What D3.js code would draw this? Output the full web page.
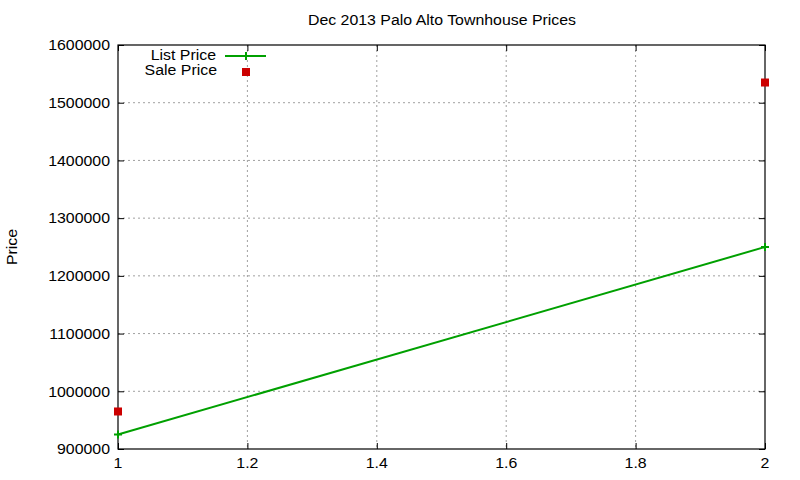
<!DOCTYPE html>
<html>
<head>
<meta charset="utf-8">
<script src="https://cdn.jsdelivr.net/npm/d3@7"></script>
<style>
  body { margin: 0; background: #fff; }
  text { font-family: "Liberation Sans", Arial, sans-serif; font-size: 15px; fill: #000; }
</style>
</head>
<body>
<div id="chart"></div>
<script>
var titleText = "Dec 2013 Palo Alto Townhouse Prices";
var yLabel = "Price";
var xTicks = [1, 1.2, 1.4, 1.6, 1.8, 2];
var yTicks = [900000, 1000000, 1100000, 1200000, 1300000, 1400000, 1500000, 1600000];
var listX = [1, 2];
var listPrice = [925000, 1250000];
var saleX = [1, 2];
var salePrice = [965000, 1535000];

var width = 800, height = 480;
var plotLeft = 118, plotRight = 765, plotTop = 45, plotBottom = 449;
var stretch = 1.06; // gnuplot's png font is a bit wider than Arial

var svg = d3.select("#chart").append("svg").attr("width", width).attr("height", height);

var xScale = d3.scaleLinear().domain([1, 2]).range([plotLeft, plotRight]);
var yScale = d3.scaleLinear().domain([900000, 1600000]).range([plotBottom, plotTop]);

// text helper
function label(x, y, str, anchor, rot) {
  var t = "translate(" + x + "," + y + ")" + (rot ? " rotate(" + rot + ")" : "") + " scale(" + stretch + ",1)";
  return svg.append("text").attr("transform", t).attr("text-anchor", anchor)
    .attr("dominant-baseline", "central").text(str);
}

// grid
svg.append("g").selectAll("line.gx").data(xTicks.slice(1, -1)).enter().append("line")
  .attr("x1", d => xScale(d)).attr("x2", d => xScale(d)).attr("y1", plotTop).attr("y2", plotBottom)
  .attr("stroke", "#a0a0a0").attr("stroke-dasharray", "2,3");
svg.append("g").selectAll("line.gy").data(yTicks.slice(1, -1)).enter().append("line")
  .attr("y1", d => yScale(d)).attr("y2", d => yScale(d)).attr("x1", plotLeft).attr("x2", plotRight)
  .attr("stroke", "#a0a0a0").attr("stroke-dasharray", "2,3");

// axes with inward ticks, mirrored
var tl = 6;
svg.append("g").attr("transform", "translate(0," + plotBottom + ")")
  .call(d3.axisTop(xScale).tickValues(xTicks).tickSize(tl).tickFormat(""))
  .call(g => g.select(".domain").remove());
svg.append("g").attr("transform", "translate(0," + plotTop + ")")
  .call(d3.axisBottom(xScale).tickValues(xTicks).tickSize(tl).tickFormat(""))
  .call(g => g.select(".domain").remove());
svg.append("g").attr("transform", "translate(" + plotLeft + ",0)")
  .call(d3.axisRight(yScale).tickValues(yTicks).tickSize(tl).tickFormat(""))
  .call(g => g.select(".domain").remove());
svg.append("g").attr("transform", "translate(" + plotRight + ",0)")
  .call(d3.axisLeft(yScale).tickValues(yTicks).tickSize(tl).tickFormat(""))
  .call(g => g.select(".domain").remove());

svg.append("rect").attr("x", plotLeft).attr("y", plotTop).attr("width", plotRight - plotLeft).attr("height", plotBottom - plotTop)
  .attr("fill", "none").attr("stroke", "#000").attr("stroke-width", 1.2);

// tick labels
xTicks.forEach(d => label(xScale(d), 463, d3.format("~g")(d), "middle"));
yTicks.forEach(d => label(110, yScale(d), d, "end"));

// title and y label
label((plotLeft + plotRight) / 2 + 0.5, 20, titleText, "middle");
label(12, (plotTop + plotBottom) / 2, yLabel, "middle", -90);

// list price line
var green = "#00a000", red = "#cc0000";
var line = d3.line().x(d => xScale(d[0])).y(d => yScale(d[1]));
var listData = listX.map((x, i) => [x, listPrice[i]]);
svg.append("path").datum(listData).attr("d", line).attr("fill", "none")
  .attr("stroke", green).attr("stroke-width", 2);
function plus(cx, cy) {
  svg.append("path").attr("d", "M" + (cx - 4) + "," + cy + "h8M" + cx + "," + (cy - 4) + "v8")
    .attr("stroke", green).attr("stroke-width", 2);
}
listData.forEach(d => plus(xScale(d[0]), yScale(d[1])));

// sale price points
svg.append("g").selectAll("rect").data(saleX.map((x, i) => [x, salePrice[i]])).enter().append("rect")
  .attr("x", d => xScale(d[0]) - 4).attr("y", d => yScale(d[1]) - 4)
  .attr("width", 8).attr("height", 8).attr("fill", red);

// legend
label(216, 55, "List Price", "end");
svg.append("line").attr("x1", 225).attr("x2", 266).attr("y1", 56).attr("y2", 56)
  .attr("stroke", green).attr("stroke-width", 2);
plus(246, 56);
label(217, 70, "Sale Price", "end");
svg.append("rect").attr("x", 242).attr("y", 68).attr("width", 8).attr("height", 8).attr("fill", red);
</script>
</body>
</html>
